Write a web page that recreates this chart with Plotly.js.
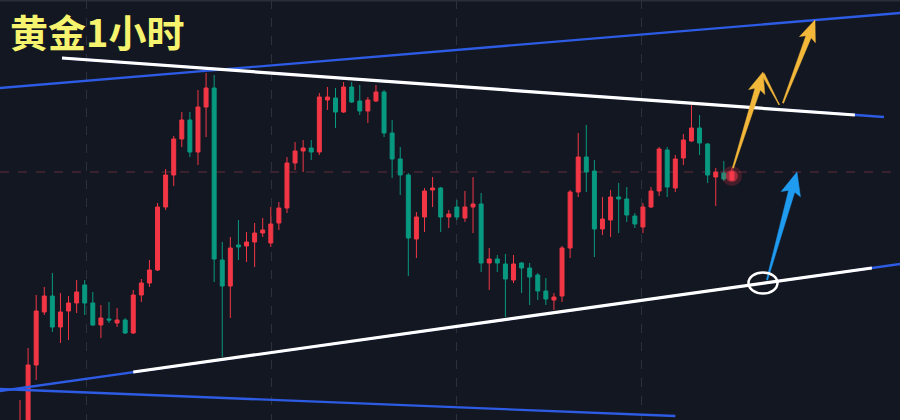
<!DOCTYPE html>
<html>
<head>
<meta charset="utf-8">
<script src="https://cdn.plot.ly/plotly-3.0.1.min.js"></script>
<style>
html,body{margin:0;padding:0;background:#131722;}
#chart{width:900px;height:420px;}
</style>
</head>
<body>
<div id="chart"></div>
<script>
// ---- Candle data (slot index, price units) ----
const candleIdx = Array.from({length: 89}, (_, i) => i);
const openP  = [-20,-10,55,108,124,93,109,117,135,117,95,101,97,100,87,125,137,150,213,245,281,300,268,313,332,160,134,175,174,178,187,177,197,212,257,269,272,268,320,322,308,333,319,309,319,328,287,261,245,181,203,230,232,203,213,202,213,216,157,161,156,140,157,152,145,129,120,124,172,228,263,249,191,200,223,221,204,193,213,229,270,232,262,279,292,276,243,247,240];
const highP  = [20,72,125,133,147,127,124,140,140,128,115,118,112,102,130,141,160,217,251,284,308,308,330,347,345,178,183,200,188,197,202,213,218,263,278,280,280,327,333,332,338,338,335,323,335,330,300,273,247,208,232,243,233,210,220,229,243,227,172,165,166,165,158,157,147,142,127,174,230,287,295,260,223,230,237,233,207,217,233,273,273,265,286,315,305,277,252,259,252];
const lowP   = [-30,-20,40,105,88,77,80,107,105,94,82,97,93,86,86,118,133,149,210,234,273,263,255,283,138,63,102,160,158,153,183,173,190,207,250,248,260,265,310,292,307,317,305,297,318,283,242,225,144,162,188,213,188,192,200,198,187,148,130,148,103,137,127,115,120,115,110,118,162,223,228,163,185,183,187,198,192,187,212,224,223,228,255,278,265,237,214,239,240];
const closeP = [-5,55,109,124,93,108,117,128,117,95,102,100,100,87,125,137,150,213,245,281,300,268,313,332,161,134,172,173,178,187,190,196,212,257,269,272,268,323,323,308,333,318,309,320,328,287,261,245,182,203,229,232,203,206,203,213,216,157,161,157,141,156,152,143,129,121,123,172,228,263,248,191,201,223,221,205,196,213,229,271,233,261,280,292,277,245,248,241,248];
const currentPrice = 248;
const gridX = [8.16, 31.03, 53.9, 76.77];

// ---- Drawn trend lines: [x0, y0, x1, y1] in slot / price units ----
const blueLines = [
  [-2.5, 332, 108.8, 407],   // upper channel
  [5.19, 362, 106.8, 303],   // falling resistance (full)
  [-2.5, 29, 108.8, 156],    // rising support (full)
  [-2.5, 31, 81.0, 4]        // lower falling line
];
const whiteLines = [
  [5.19, 362, 103.2, 305],
  [14.0, 48, 105.3, 152]
];
// circle [centerX, centerY, halfWidthX, halfHeightY]
const circleMark = [91.84, 137, 1.79, 10.5];
// arrows: [tailX, tailY, tipX, tipY]
const blueArrows = [[92.34, 140, 96.04, 248]];
const yellowArrows = [[88.13, 252, 91.84, 348], [94.31, 317, 98.27, 400]];
const yellowStroke = [[91.84, 346, 93.82, 315]];

// ---- axes ----
const W = 900, H = 420;
const xMin = -20 / 8.09, xMax = (900 - 20) / 8.09;
const yMin = 0, yMax = 420;
const toPx = (x, y) => [(x - xMin) / (xMax - xMin) * W, (yMax - y) / (yMax - yMin) * H];
const fromPx = (px, py) => [px / W * (xMax - xMin) + xMin, yMax - py / H * (yMax - yMin)];

function arrowPoly(a, headLen, headHW, shaftHW, tailHW) {
  const [tx, ty] = toPx(a[0], a[1]);
  const [hx, hy] = toPx(a[2], a[3]);
  const L = Math.hypot(hx - tx, hy - ty);
  const dx = (hx - tx) / L, dy = (hy - ty) / L;
  const nx = -dy, ny = dx;
  const bx = hx - dx * headLen, by = hy - dy * headLen;
  const pts = [
    [tx + nx * tailHW, ty + ny * tailHW],
    [bx + nx * shaftHW, by + ny * shaftHW],
    [bx - dx * 3 + nx * headHW, by - dy * 3 + ny * headHW],
    [hx, hy],
    [bx - dx * 3 - nx * headHW, by - dy * 3 - ny * headHW],
    [bx - nx * shaftHW, by - ny * shaftHW],
    [tx - nx * tailHW, ty - ny * tailHW],
    [tx + nx * tailHW, ty + ny * tailHW]
  ].map(p => fromPx(p[0], p[1]));
  return {x: pts.map(p => p[0]), y: pts.map(p => p[1])};
}

const traces = [];

traces.push({
  type: 'candlestick',
  x: candleIdx, open: openP, high: highP, low: lowP, close: closeP,
  increasing: {line: {color: '#f23645', width: 1}, fillcolor: '#f23645'},
  decreasing: {line: {color: '#089981', width: 1}, fillcolor: '#089981'},
  whiskerwidth: 0,
  hoverinfo: 'skip'
});

// glow on last candle
const lastI = candleIdx.length - 1;
traces.push({type: 'scatter', mode: 'markers', x: [candleIdx[lastI]], y: [(openP[lastI] + closeP[lastI]) / 2],
  marker: {size: 20, color: 'rgba(242,54,69,0.22)', line: {width: 0}}, hoverinfo: 'skip'});
traces.push({type: 'scatter', mode: 'markers', x: [candleIdx[lastI]], y: [(openP[lastI] + closeP[lastI]) / 2],
  marker: {size: 12, color: 'rgba(255,60,80,0.5)', line: {width: 0}}, hoverinfo: 'skip'});

blueLines.forEach(l => traces.push({type: 'scatter', mode: 'lines', x: [l[0], l[2]], y: [l[1], l[3]],
  line: {color: '#2d5be3', width: 2.3}, hoverinfo: 'skip'}));
whiteLines.forEach(l => traces.push({type: 'scatter', mode: 'lines', x: [l[0], l[2]], y: [l[1], l[3]],
  line: {color: '#ffffff', width: 3.2}, hoverinfo: 'skip'}));

blueArrows.forEach(a => {
  const p = arrowPoly(a, 20, 10, 3.2, 0.6);
  traces.push({type: 'scatter', mode: 'lines', x: p.x, y: p.y, fill: 'toself', fillcolor: '#1f9bf0',
    line: {color: '#1f9bf0', width: 0.5}, hoverinfo: 'skip'});
});
yellowArrows.forEach(a => {
  const p = arrowPoly(a, 18, 8.5, 2.8, 0.6);
  traces.push({type: 'scatter', mode: 'lines', x: p.x, y: p.y, fill: 'toself', fillcolor: '#f3b73a',
    line: {color: '#f3b73a', width: 0.5}, hoverinfo: 'skip'});
});
yellowStroke.forEach(a => {
  const p = arrowPoly(a, 0.01, 0.6, 0.6, 1.5);
  traces.push({type: 'scatter', mode: 'lines', x: p.x, y: p.y, fill: 'toself', fillcolor: '#f3b73a',
    line: {color: '#f3b73a', width: 0.5}, hoverinfo: 'skip'});
});

const layout = {
  width: W, height: H,
  margin: {l: 0, r: 0, t: 0, b: 0, pad: 0},
  paper_bgcolor: '#131722', plot_bgcolor: '#131722',
  showlegend: false,
  hovermode: false,
  boxgap: 0.3,
  xaxis: {range: [xMin, xMax], tickvals: gridX, showticklabels: false, showgrid: true,
    gridcolor: '#2c303b', griddash: 'dash', gridwidth: 1, zeroline: false, showline: false,
    rangeslider: {visible: false}, fixedrange: true},
  yaxis: {range: [yMin, yMax], showgrid: false, showticklabels: false, zeroline: false, showline: false, fixedrange: true},
  shapes: [
    {type: 'line', xref: 'paper', yref: 'y', x0: 0, x1: 1, y0: currentPrice, y1: currentPrice,
      line: {color: 'rgba(190,70,90,0.45)', width: 1, dash: 'dash'}, layer: 'below'},
    {type: 'line', xref: 'paper', yref: 'paper', x0: 0, x1: 1, y0: 0.999, y1: 0.999,
      line: {color: '#2a2e39', width: 2}},
    {type: 'circle', xref: 'x', yref: 'y',
      x0: circleMark[0] - circleMark[2], x1: circleMark[0] + circleMark[2],
      y0: circleMark[1] - circleMark[3], y1: circleMark[1] + circleMark[3],
      line: {color: '#ffffff', width: 2.5}}
  ],
  annotations: [{
    text: '<b>黄金1小时</b>', xref: 'paper', yref: 'paper', x: 8 / W, y: 1 - 31 / H,
    xanchor: 'left', yanchor: 'middle', showarrow: false,
    font: {family: '"Noto Sans CJK SC", "Noto Sans", sans-serif', size: 38, color: '#f6f36e'}
  }]
};

Plotly.newPlot('chart', traces, layout, {displayModeBar: false, staticPlot: true});
</script>
</body>
</html>
